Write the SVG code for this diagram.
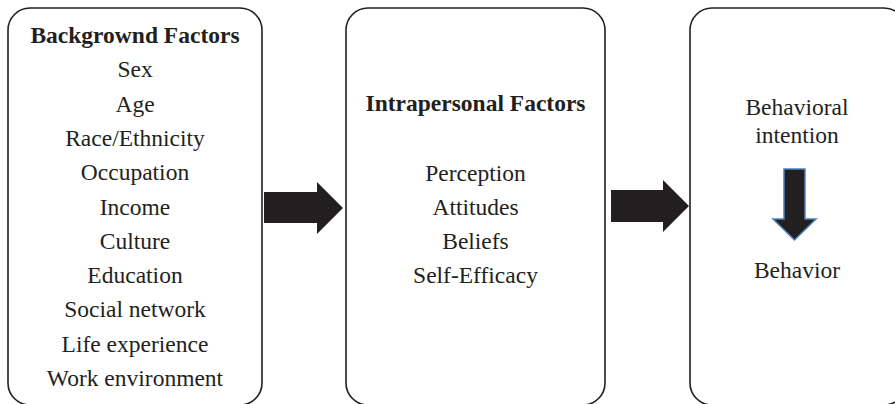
<svg xmlns="http://www.w3.org/2000/svg" width="895" height="404" viewBox="0 0 895 404">
<style>
.box{fill:#fff;stroke:#231f20;stroke-width:1.6}
text{font-family:"Liberation Serif","Times New Roman",serif;font-size:23.5px;fill:#231f20;text-anchor:middle}
.b{font-weight:bold}
.arr{fill:#231f20}
.down{fill:#231f20;stroke:#4f81bd;stroke-width:1.5}
</style>
<rect width="895" height="404" fill="#fff"/>
<g id="background-factors">
<rect class="box" x="8" y="8" width="254" height="397" rx="22" ry="22"/>
<text class="b" x="135" y="43">Backgrownd Factors</text>
<text x="135" y="77.3">Sex</text>
<text x="135" y="111.6">Age</text>
<text x="135" y="145.9">Race/Ethnicity</text>
<text x="135" y="180.2">Occupation</text>
<text x="135" y="214.5">Income</text>
<text x="135" y="248.8">Culture</text>
<text x="135" y="283.1">Education</text>
<text x="135" y="317.4">Social network</text>
<text x="135" y="351.7">Life experience</text>
<text x="135" y="386">Work environment</text>
</g>
<g id="intrapersonal-factors">
<rect class="box" x="346" y="8" width="259" height="397" rx="22" ry="22"/>
<text class="b" x="475.5" y="111">Intrapersonal Factors</text>
<text x="475.5" y="181">Perception</text>
<text x="475.5" y="215">Attitudes</text>
<text x="475.5" y="249">Beliefs</text>
<text x="475.5" y="283">Self-Efficacy</text>
</g>
<g id="behavior">
<rect class="box" x="690" y="8" width="216" height="397" rx="22" ry="22"/>
<text x="797" y="115">Behavioral</text>
<text x="797" y="142.5">intention</text>
<polygon class="down" points="784,169 805,169 805,219 816,219 794.5,240 773,219 784,219"/>
<text x="797" y="278">Behavior</text>
</g>
<g id="connectors">
<polygon class="arr" points="264,192 317,192 317,182 343,208 317,234 317,223 264,223"/>
<polygon class="arr" points="611,190 663,190 663,180 689,206 663,232 663,222 611,222"/>
</g>
</svg>
